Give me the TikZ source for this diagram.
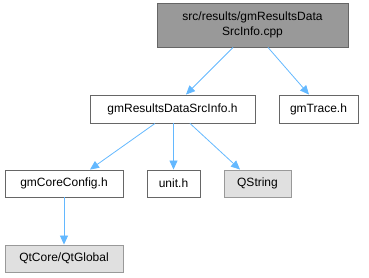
\documentclass[tikz,border=0pt]{standalone}
\usepackage{fontspec}
\setmainfont{Liberation Sans}
\usetikzlibrary{arrows.meta}
\definecolor{edgec}{HTML}{63B8FF}
\definecolor{brd}{HTML}{666666}
\definecolor{grayfill}{HTML}{E0E0E0}
\definecolor{grayb}{HTML}{999999}
\definecolor{topfill}{HTML}{999999}
\begin{document}
\begin{tikzpicture}[x=1pt,y=-1pt,
  box/.style={draw=brd, fill=white, line width=0.9pt, inner sep=0pt, font=\fontsize{12}{15}\selectfont, align=center},
  extbox/.style={box, draw=grayb, fill=grayfill},
  topbox/.style={box, fill=topfill},
  edge/.style={draw=edgec, line width=0.8pt, -{Triangle[length=9pt,width=8pt]}}]
\useasboundingbox (0,0) rectangle (369,277);
\node[topbox, minimum width=191pt, minimum height=44pt] (top) at (252.5,25) {src/results/gmResultsData\\SrcInfo.cpp};
\node[box, minimum width=165pt, minimum height=28pt] (rds) at (172.5,109) {gmResultsDataSrcInfo.h};
\node[box, minimum width=79pt, minimum height=28pt] (tr) at (318.5,109) {gmTrace.h};
\node[box, minimum width=118pt, minimum height=27pt] (cc) at (64,183.5) {gmCoreConfig.h};
\node[box, minimum width=53pt, minimum height=27pt] (un) at (173.5,183.5) {unit.h};
\node[extbox, minimum width=67pt, minimum height=27pt] (qs) at (257.5,183.5) {QString};
\node[extbox, minimum width=118pt, minimum height=27pt] (qg) at (64,258.5) {QtCore/QtGlobal};
\draw[edge] ([xshift=-19.5pt]top.south) -- ([xshift=13.5pt]rds.north);
\draw[edge] ([xshift=15.5pt]top.south) -- ([xshift=-9.5pt]tr.north);
\draw[edge] ([xshift=-17.5pt]rds.south) -- ([xshift=26pt]cc.north);
\draw[edge] ([xshift=1pt]rds.south) -- (un.north);
\draw[edge] ([xshift=17.5pt]rds.south) -- ([xshift=-17.5pt]qs.north);
\draw[edge] (cc) -- (qg);
\end{tikzpicture}
\end{document}
